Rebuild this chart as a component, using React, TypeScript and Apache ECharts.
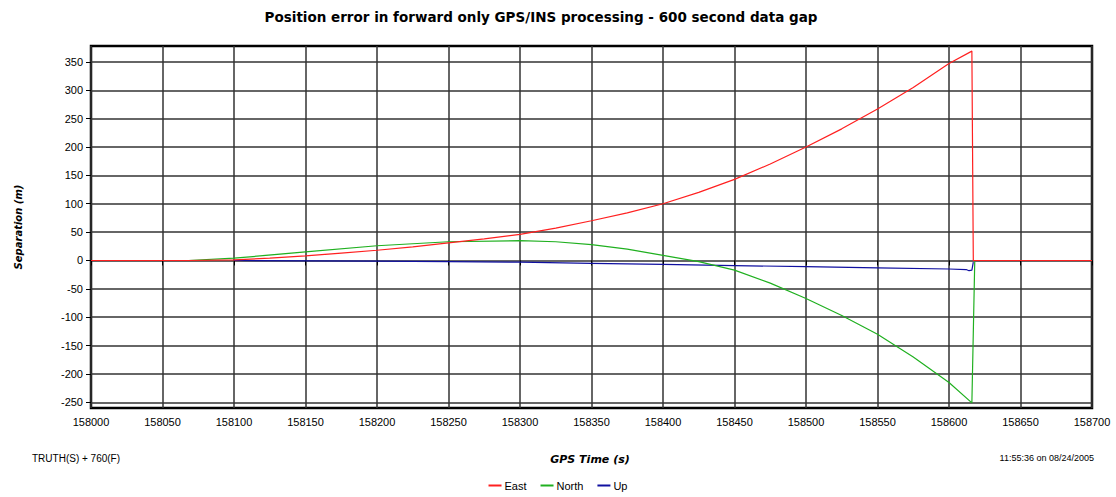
import React, { useEffect, useRef } from "react";
import * as echarts from "echarts";

const titleText = "Position error in forward only GPS/INS processing - 600 second data gap";
const xTicks = [158000, 158050, 158100, 158150, 158200, 158250, 158300, 158350, 158400, 158450, 158500, 158550, 158600, 158650, 158700];
const yTicks = [-250, -200, -150, -100, -50, 0, 50, 100, 150, 200, 250, 300, 350];

const eastTimes = [158000, 158068, 158100, 158125, 158150, 158175, 158200, 158225, 158250, 158275, 158300, 158325, 158350, 158375, 158400, 158425, 158450, 158475, 158500, 158525, 158550, 158575, 158600, 158616, 158617, 158700];
const eastValues = [0, 0, 1, 4, 8, 13, 18, 24, 31, 38, 46, 57, 70, 84, 100, 120, 143, 170, 200, 232, 267, 305, 347, 369, 0, 0];

const northTimes = [158068, 158100, 158150, 158200, 158250, 158300, 158325, 158350, 158375, 158400, 158425, 158450, 158475, 158500, 158525, 158550, 158575, 158600, 158616, 158618];
const northValues = [0, 4, 15, 26, 33, 35, 33, 28, 20, 9, -2, -17, -40, -67, -97, -130, -170, -215, -251, -2];

const upTimes = [158100, 158200, 158250, 158300, 158350, 158400, 158450, 158500, 158550, 158600, 158612, 158614, 158616, 158617];
const upValues = [0, -1, -2, -3, -5, -7, -9, -11, -13, -15, -16, -18, -17, -3];

const zip = (t: number[], v: number[]) => t.map((x, i) => [x, v[i]]);

export default function App() {
  const ref = useRef<HTMLDivElement>(null);
  useEffect(() => {
    if (!ref.current) return;
    const chart = echarts.init(ref.current, null, { renderer: "svg" });
    const font = "Arial, 'Liberation Sans', sans-serif";
    const boldFont = "'DejaVu Sans', Verdana, sans-serif";
    chart.setOption({
      animation: false,
      backgroundColor: "#ffffff",
      textStyle: { fontFamily: font },
      graphic: [
        {
          type: "text",
          x: 541,
          y: 17,
          style: { text: titleText, fontFamily: boldFont, fontSize: 13.5, fontWeight: "bold", fill: "#000", align: "center", verticalAlign: "middle" },
        },
        {
          type: "text",
          x: 18,
          y: 227,
          rotation: Math.PI / 2,
          style: { text: "Separation (m)", fontFamily: boldFont, fontSize: 10, fontWeight: "bold", fontStyle: "italic", fill: "#000", align: "center", verticalAlign: "middle" },
        },
        {
          type: "text",
          x: 590,
          y: 459,
          style: { text: "GPS Time (s)", fontFamily: boldFont, fontSize: 11, fontWeight: "bold", fontStyle: "italic", fill: "#000", align: "center", verticalAlign: "middle" },
        },
        {
          type: "text",
          x: 32,
          y: 458,
          style: { text: "TRUTH(S) + 760(F)", fontFamily: font, fontSize: 10, fill: "#000", align: "left", verticalAlign: "middle" },
        },
        {
          type: "text",
          x: 1094,
          y: 458,
          style: { text: "11:55:36 on 08/24/2005", fontFamily: font, fontSize: 9, fill: "#000", align: "right", verticalAlign: "middle" },
        },
      ],
      legend: {
        bottom: 1,
        left: "center",
        itemWidth: 13,
        itemHeight: 2,
        itemGap: 14,
        icon: "rect",
        textStyle: { fontFamily: font, fontSize: 11, color: "#000", padding: [0, 0, 0, -2] },
        data: ["East", "North", "Up"],
      },
      grid: {
        left: 91,
        right: 24,
        top: 46,
        bottom: 89,
        show: true,
        borderColor: "#000",
        borderWidth: 2.5,
      },
      xAxis: {
        type: "value",
        min: 158000,
        max: 158700,
        interval: 50,
        axisLine: { show: false },
        axisTick: { show: true, length: 5, lineStyle: { color: "#000", width: 1 } },
        axisLabel: { color: "#000", fontSize: 11, margin: 8, fontFamily: font, formatter: (v: number) => String(v), customValues: xTicks },
        splitLine: { show: true, lineStyle: { color: "#333", width: 1.5 } },
      },
      yAxis: {
        type: "value",
        min: -260,
        max: 378,
        axisLine: { show: false },
        axisTick: { show: true, length: 5, customValues: yTicks, lineStyle: { color: "#000", width: 1 } },
        axisLabel: { color: "#000", fontSize: 11, margin: 8, fontFamily: font, customValues: yTicks },
        splitLine: { show: true, lineStyle: { color: "#333", width: 1.5 } },
      },
      series: [
        {
          name: "Up",
          type: "line",
          data: zip(upTimes, upValues),
          showSymbol: false,
          lineStyle: { color: "#1010a0", width: 1.2 },
          itemStyle: { color: "#1010a0" },
          z: 3,
        },
        {
          name: "North",
          type: "line",
          data: zip(northTimes, northValues),
          showSymbol: false,
          lineStyle: { color: "#20b020", width: 1.2 },
          itemStyle: { color: "#20b020" },
          z: 4,
        },
        {
          name: "East",
          type: "line",
          data: zip(eastTimes, eastValues),
          showSymbol: false,
          lineStyle: { color: "#ff2020", width: 1.2 },
          itemStyle: { color: "#ff2020" },
          z: 5,
        },
      ],
    });
    return () => chart.dispose();
  }, []);
  return <div ref={ref} style={{ position: "absolute", left: 0, top: 0, width: 1116, height: 497 }} />;
}
